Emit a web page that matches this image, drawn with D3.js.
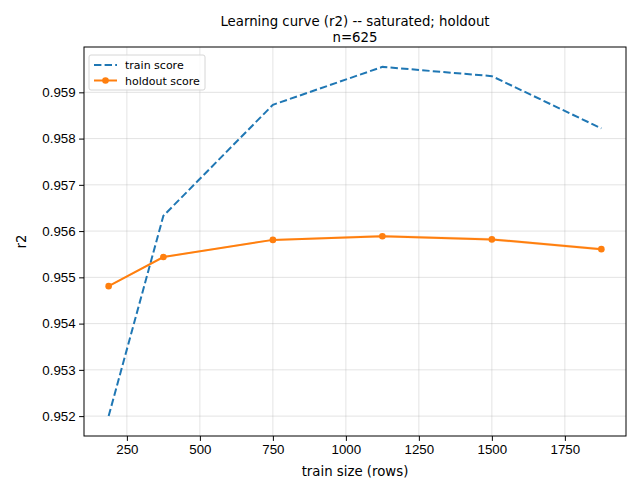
<!DOCTYPE html>
<html>
<head>
<meta charset="utf-8">
<script src="https://cdn.jsdelivr.net/npm/d3@7"></script>
<style>
  body { margin: 0; background: #fff; }
  svg { display: block; font-family: "DejaVu Sans", sans-serif; }
  .tick text { font-size: 13.3px; fill: #000; }
</style>
</head>
<body>
<svg width="641" height="493"></svg>
<script>
const trainSizes = [187.5, 375, 750, 1125, 1500, 1875];
const trainScore = [0.95200, 0.95633, 0.95873, 0.95955, 0.95935, 0.95822];
const holdoutScore = [0.95481, 0.95544, 0.95581, 0.95589, 0.95582, 0.95561];
const holdoutStd = [0.00002, 0.00002, 0.00002, 0.00003, 0.00003, 0.00003];
const xTicks = [250, 500, 750, 1000, 1250, 1500, 1750];
const yTicks = [0.952, 0.953, 0.954, 0.955, 0.956, 0.957, 0.958, 0.959];

const svg = d3.select('svg');
const width = +svg.attr('width');
const height = +svg.attr('height');
const margin = { top: 47, right: 15, bottom: 57, left: 84 };
const innerW = width - margin.left - margin.right;
const innerH = height - margin.top - margin.bottom;

const data = trainSizes.map((s, i) => ({
	size: s,
	train: trainScore[i],
	holdout: holdoutScore[i],
	std: holdoutStd[i]
}));

const xPad = (d3.max(trainSizes) - d3.min(trainSizes)) * 0.05;
const xScale = d3.scaleLinear()
	.domain([d3.min(trainSizes) - xPad, d3.max(trainSizes) + xPad])
	.range([0, innerW]);

const yScale = d3.scaleLinear()
	.domain([0.95157, 0.95998])
	.range([innerH, 0]);

const g = svg.append('g')
	.attr('transform', `translate(${margin.left},${margin.top})`);

// grid
g.append('g')
	.selectAll('line').data(xTicks)
	.enter().append('line')
		.attr('x1', d => xScale(d)).attr('x2', d => xScale(d))
		.attr('y1', 0).attr('y2', innerH)
		.attr('stroke', '#b0b0b0').attr('stroke-opacity', 0.35).attr('stroke-width', 1);
g.append('g')
	.selectAll('line').data(yTicks)
	.enter().append('line')
		.attr('y1', d => yScale(d)).attr('y2', d => yScale(d))
		.attr('x1', 0).attr('x2', innerW)
		.attr('stroke', '#b0b0b0').attr('stroke-opacity', 0.35).attr('stroke-width', 1);

// axes
const xAxis = g.append('g')
	.attr('transform', `translate(0,${innerH})`)
	.call(d3.axisBottom(xScale).tickValues(xTicks).tickSize(4.9).tickPadding(3.5).tickFormat(d3.format('d')));
const yAxis = g.append('g')
	.call(d3.axisLeft(yScale).tickValues(yTicks).tickSize(4.9).tickPadding(3.5).tickFormat(d3.format('.3f')));
[xAxis, yAxis].forEach(a => {
	a.select('.domain').remove();
	a.selectAll('.tick line').attr('stroke', '#000').attr('stroke-width', 1);
});

// band
g.append('path')
	.datum(data)
	.attr('fill', '#ff7f0e')
	.attr('fill-opacity', 0.2)
	.attr('d', d3.area()
		.x(d => xScale(d.size))
		.y0(d => yScale(d.holdout - d.std))
		.y1(d => yScale(d.holdout + d.std)));

// lines
g.append('path')
	.datum(data)
	.attr('fill', 'none')
	.attr('stroke', '#1f77b4')
	.attr('stroke-width', 2)
	.attr('stroke-dasharray', '7.4,3.2')
	.attr('d', d3.line().x(d => xScale(d.size)).y(d => yScale(d.train)));

g.append('path')
	.datum(data)
	.attr('fill', 'none')
	.attr('stroke', '#ff7f0e')
	.attr('stroke-width', 2)
	.attr('d', d3.line().x(d => xScale(d.size)).y(d => yScale(d.holdout)));

g.selectAll('circle.hold').data(data)
	.enter().append('circle')
		.attr('class', 'hold')
		.attr('cx', d => xScale(d.size))
		.attr('cy', d => yScale(d.holdout))
		.attr('r', 3.3)
		.attr('fill', '#ff7f0e');

// frame
g.append('rect')
	.attr('width', innerW).attr('height', innerH)
	.attr('fill', 'none').attr('stroke', '#000').attr('stroke-width', 1);

// legend
const legend = g.append('g').attr('transform', 'translate(5,8)');
legend.append('rect')
	.attr('width', 116).attr('height', 35).attr('rx', 2)
	.attr('fill', '#fff').attr('fill-opacity', 0.8)
	.attr('stroke', '#d6d6d6').attr('stroke-width', 1);
const items = [
	{ label: 'train score', color: '#1f77b4', dash: '7.4,3.2', marker: false },
	{ label: 'holdout score', color: '#ff7f0e', dash: null, marker: true }
];
items.forEach((it, i) => {
	const row = legend.append('g').attr('transform', `translate(0,${10 + i * 15.5})`);
	row.append('line')
		.attr('x1', 5).attr('x2', 28)
		.attr('stroke', it.color).attr('stroke-width', 2)
		.attr('stroke-dasharray', it.dash);
	if (it.marker) row.append('circle').attr('cx', 16.5).attr('r', 3.3).attr('fill', it.color);
	row.append('text')
		.attr('x', 36).attr('y', 4)
		.attr('font-size', '11px')
		.text(it.label);
});

// labels
g.append('text')
	.attr('x', innerW / 2).attr('y', innerH + 40)
	.attr('text-anchor', 'middle').attr('font-size', '13.3px')
	.text('train size (rows)');
g.append('text')
	.attr('transform', `translate(${-58},${innerH / 2}) rotate(-90)`)
	.attr('text-anchor', 'middle').attr('font-size', '13.3px')
	.text('r2');

svg.append('text')
	.attr('x', margin.left + innerW / 2).attr('y', 26)
	.attr('text-anchor', 'middle').attr('font-size', '13.3px')
	.text('Learning curve (r2) -- saturated; holdout');
svg.append('text')
	.attr('x', margin.left + innerW / 2).attr('y', 42)
	.attr('text-anchor', 'middle').attr('font-size', '13.3px')
	.text('n=625');
</script>
</body>
</html>
